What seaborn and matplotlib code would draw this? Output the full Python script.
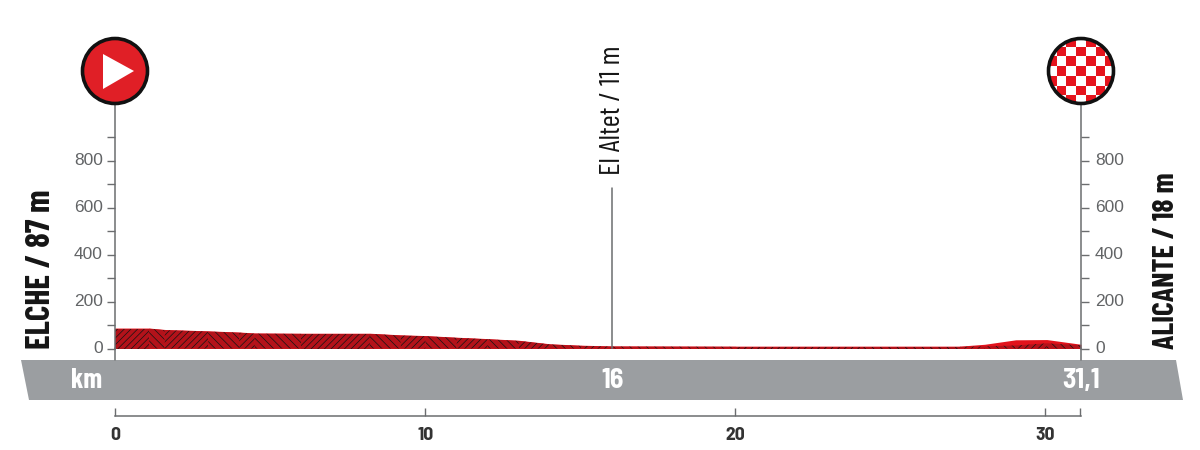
import matplotlib
matplotlib.use("Agg")
import matplotlib.pyplot as plt
from matplotlib.patches import Circle, Polygon, Rectangle
import seaborn as sns

km = [0, 1.1, 1.6, 3, 4, 4.5, 6, 8.2, 9.2, 10, 11, 12, 13, 14, 15, 16, 20, 24, 27.2, 28, 29, 30, 31.1]
elev = [87, 87, 81, 75, 70, 66, 65, 65, 58, 55, 48, 42, 35, 20, 14, 11, 10, 10, 10, 18, 37, 38, 18]
elev_dark = [84, 84, 78, 72, 67, 63, 62, 62, 55, 52, 45, 39, 32, 17, 11, 8, 7, 7, 7, 9, 13, 22, 14]
y_major = [0, 200, 400, 600, 800]
y_minor = [100, 300, 500, 700, 900]
km_ticks = [0, 10, 20, 30]
start_label = "ELCHE / 87 m"
end_label = "ALICANTE / 18 m"
mid_label = "El Altet / 11 m"
mid_km = 16
total_km = 31.1
band_labels = ["km", "16", "31,1"]

sns.set_theme(style="white")
COND = ["Barlow Condensed", "Liberation Sans", "DejaVu Sans"]
SEMI = ["Barlow Semi Condensed", "Barlow Condensed", "Liberation Sans", "DejaVu Sans"]
plt.rcParams["font.family"] = ["Liberation Sans", "DejaVu Sans"]
plt.rcParams["hatch.linewidth"] = 0.5

W, H = 1200, 450
fig = plt.figure(figsize=(12, 4.5), dpi=100, facecolor="white")
GRAY = "#6b6d6f"

def rect(l, t, r, b):
    return [l / W, 1 - b / H, (r - l) / W, (b - t) / H]

# main elevation axes
ax = fig.add_axes(rect(115, 71, 1081, 348.5), zorder=2)
ax.patch.set_alpha(0)
ax.set_xlim(0, total_km)
ax.set_ylim(0, 277.5 / 0.235)
ax.fill_between(km, 0, elev, color="#e2131c", lw=0)
for i in range(len(km) - 1):
    ax.fill_between(km[i:i + 2], 0, elev_dark[i:i + 2], facecolor="#b3121a", edgecolor="#141414",
                    hatch="\\\\\\\\" if i % 2 else "/////", lw=0)
sns.lineplot(x=km, y=[0] * len(km), ax=ax, color="#222222", lw=0.8)
ax.plot([mid_km, mid_km], [0, 161 / 0.235], color=GRAY, lw=1.1)
for s in ["top", "bottom"]:
    ax.spines[s].set_visible(False)
for s in ["left", "right"]:
    ax.spines[s].set_visible(True)
    ax.spines[s].set_color(GRAY)
    ax.spines[s].set_linewidth(1.1)
ax.set_xticks([])
ax.set_yticks(y_major)
ax.set_yticks(y_minor, minor=True)
ax.tick_params(axis="y", which="both", direction="out", length=5.8, width=1, color=GRAY,
               left=True, right=True, labelleft=False, labelright=False)
for v in y_major:
    ax.annotate(str(v), (0, v), xycoords=("axes fraction", "data"), xytext=(-8.8, 0), textcoords="offset points",
                ha="right", va="center", fontsize=12.5, color="#626466")
    ax.annotate(str(v), (1, v), xycoords=("axes fraction", "data"), xytext=(10, 0), textcoords="offset points",
                ha="left", va="center", fontsize=12.5, color="#626466")

# km axis
kx = fig.add_axes(rect(115, 404, 1080.5, 416), zorder=2)
kx.patch.set_alpha(0)
kx.set_xlim(0, total_km + 0.03); kx.set_ylim(0, 1)
for s in ["top", "left", "right"]:
    kx.spines[s].set_visible(False)
kx.spines["bottom"].set_color(GRAY); kx.spines["bottom"].set_linewidth(1.1)
kx.set_yticks([])
kx.set_xticks(km_ticks + [total_km], labels=[str(k) for k in km_ticks] + [""])
kx.tick_params(axis="x", direction="in", length=5.8, width=1, color=GRAY, pad=8, bottom=True)
for t in kx.get_xticklabels():
    t.set_family(SEMI); t.set_fontweight("bold"); t.set_fontsize(14); t.set_color("#333333")

# overlay in pixel coordinates for the decorations
ov = fig.add_axes([0, 0, 1, 1], zorder=3)
ov.patch.set_alpha(0)
ov.set_xlim(0, W); ov.set_ylim(H, 0); ov.axis("off")
ov.add_patch(Polygon([(21, 360), (1176, 360), (1183, 400), (29, 400)], closed=True, fc="#9b9ea1", ec="none"))
ov.plot([115, 115], [348, 360], color=GRAY, lw=1.1)
ov.plot([1081, 1081], [348, 360], color=GRAY, lw=1.1)

for s, x, fam in zip(band_labels, [87, 613, 1081], [COND, SEMI, SEMI]):
    ov.text(x, 380.5, s, ha="center", va="center", color="white", fontsize=20, family=fam, fontweight="bold")

ov.text(41, 349, start_label, rotation=90, ha="center", va="bottom", fontsize=24, family=COND, fontweight="bold", color="#151515")
ov.text(1167, 349, end_label, rotation=90, ha="center", va="bottom", fontsize=21.5, family=COND, fontweight="bold", color="#151515")
ov.text(613, 175, mid_label, rotation=90, ha="center", va="bottom", fontsize=21, family=COND, color="#151515")

# start marker
ov.add_patch(Circle((115, 71), 32.5, fc="#e01f26", ec="#111111", lw=2.6, zorder=3))
ov.add_patch(Polygon([(103, 54), (134, 71), (103, 89)], closed=True, fc="white", ec="none", zorder=4))

# finish marker
bg = Circle((1081, 71), 32.5, fc="white", ec="none", zorder=3)
ov.add_patch(bg)
step = 9.7
for i in range(-4, 5):
    for j in range(-4, 5):
        if (i + j) % 2 == 0:
            r = Rectangle((1081 + (i - 0.5) * step, 71 + (j - 0.5) * step), step, step, fc="#e5141d", ec="none", zorder=3.5)
            ov.add_patch(r)
            r.set_clip_path(bg)
ov.add_patch(Circle((1081, 71), 32.5, fc="none", ec="#111111", lw=2.6, zorder=4))

fig.savefig("out.png", dpi=100, facecolor="white")
